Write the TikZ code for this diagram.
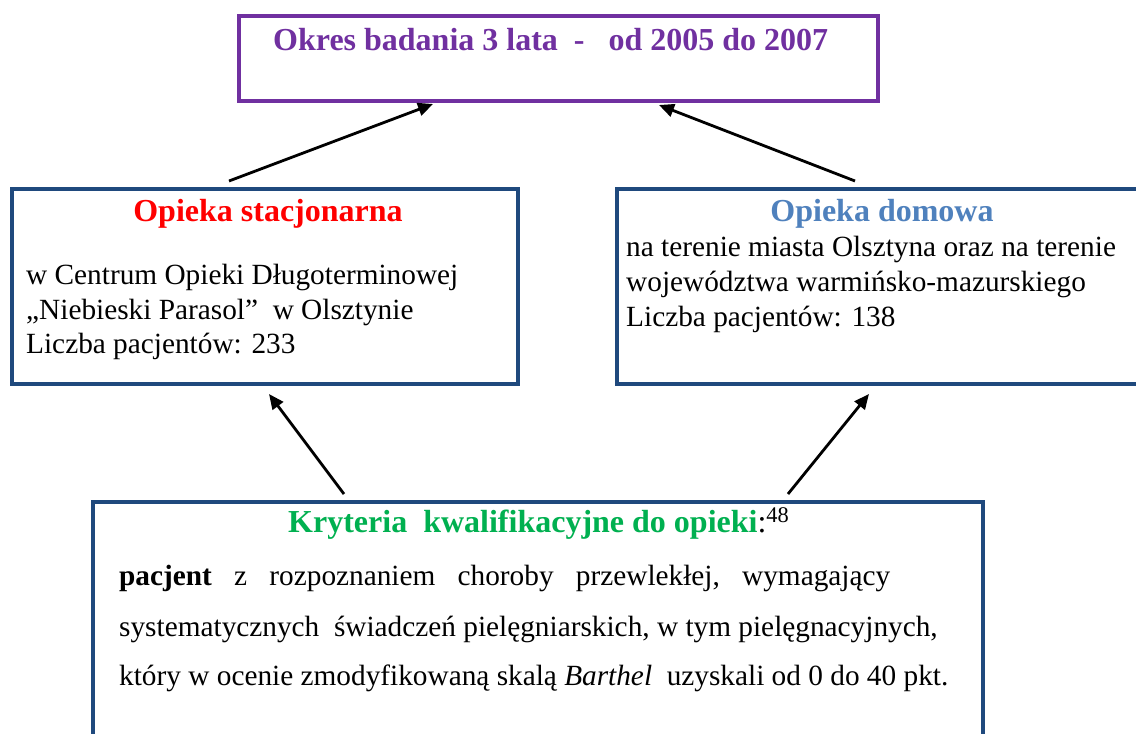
\documentclass[tikz,border=0pt]{standalone}
\usepackage{fontspec}
\setmainfont{Liberation Serif}
\usetikzlibrary{arrows.meta}
\definecolor{fiolet}{HTML}{7030A0}
\definecolor{granat}{HTML}{1F497D}
\definecolor{niebieski}{HTML}{4F81BD}
\definecolor{zielony}{HTML}{00B050}

\begin{document}
\begin{tikzpicture}[x=1pt,y=-1pt,>={Triangle[length=15pt,width=13pt]}]
\tikzstyle{box} = [rectangle, draw=granat, line width=4pt, inner sep=0pt, outer sep=0pt]
\tikzstyle{head} = [anchor=base,
                    inner sep=0pt,
                    font=\fontsize{32}{36}\selectfont\bfseries]
\tikzstyle{body} = [anchor=base west,
                    inner sep=0pt,
                    font=\fontsize{29.3}{34}\selectfont]
\tikzstyle{arrow} = [->, black, line width=2.8pt]

\fill[white] (0,0) rectangle (1136,734);
\useasboundingbox (0,0) rectangle (1136,734);
\clip (0,0) rectangle (1136,734);

% ramki
\node[box, draw=fiolet, line width=4.5pt, minimum width=639pt, minimum height=85pt] (okres) at (558.5,58.5) {};
\node[box, minimum width=506pt, minimum height=195pt] (stac) at (265,286.5) {};
\node[box, minimum width=533pt, minimum height=195pt] (dom) at (883.5,286.5) {};
\node[box, minimum width=890pt, minimum height=270pt] (kryt) at (538,637) {};

% okres badania
\node[head, anchor=base west, text=fiolet] (okres-t) at (273,50) {Okres badania 3 lata\ \ -\ \ \ od 2005 do 2007};

% opieka stacjonarna
\node[head, text=red] (stac-t) at (268,221) {Opieka stacjonarna};
\node[body] (stac-1) at (26,284) {w Centrum Opieki Długoterminowej};
\node[body] (stac-2) at (26,319) {„Niebieski Parasol”\ \ w Olsztynie};
\node[body] (stac-3) at (26,353) {Liczba pacjentów: 233};

% opieka domowa
\node[head, text=niebieski] (dom-t) at (882,221) {Opieka domowa};
\node[body] (dom-1) at (626,256) {na terenie miasta Olsztyna oraz na terenie};
\node[body] (dom-2) at (626,291) {województwa warmińsko-mazurskiego};
\node[body] (dom-3) at (626,326) {Liczba pacjentów: 138};

% kryteria
\node[head, anchor=base west] (kryt-t) at (288,532) {\textcolor{zielony}{Kryteria\ \ kwalifikacyjne do opieki}\mdseries:\textsuperscript{48}};
\node[body] (kryt-1) at (119,585) {\hbox to 771pt{\textbf{pacjent}\hfill z\hfill rozpoznaniem\hfill choroby\hfill przewlekłej,\hfill wymagający}};
\node[body] (kryt-2) at (119,636) {systematycznych\ \ świadczeń pielęgniarskich, w tym pielęgnacyjnych,};
\node[body] (kryt-3) at (119,685) {który w ocenie zmodyfikowaną skalą \textit{Barthel}\ \ uzyskali od 0 do 40 pkt.};

\draw[arrow] ([xshift=-36pt,yshift=8pt]stac.north) -- ([xshift=-125.5pt,yshift=-3pt]okres.south);
\draw[arrow] ([xshift=-28.5pt,yshift=8pt]dom.north) -- ([xshift=100.5pt,yshift=-4pt]okres.south);
\draw[arrow] ([xshift=-194pt,yshift=8pt]kryt.north) -- ([xshift=4pt,yshift=-10pt]stac.south);
\draw[arrow] ([xshift=250pt,yshift=8pt]kryt.north) -- ([xshift=-14.5pt,yshift=-10pt]dom.south);
\end{tikzpicture}
\end{document}
